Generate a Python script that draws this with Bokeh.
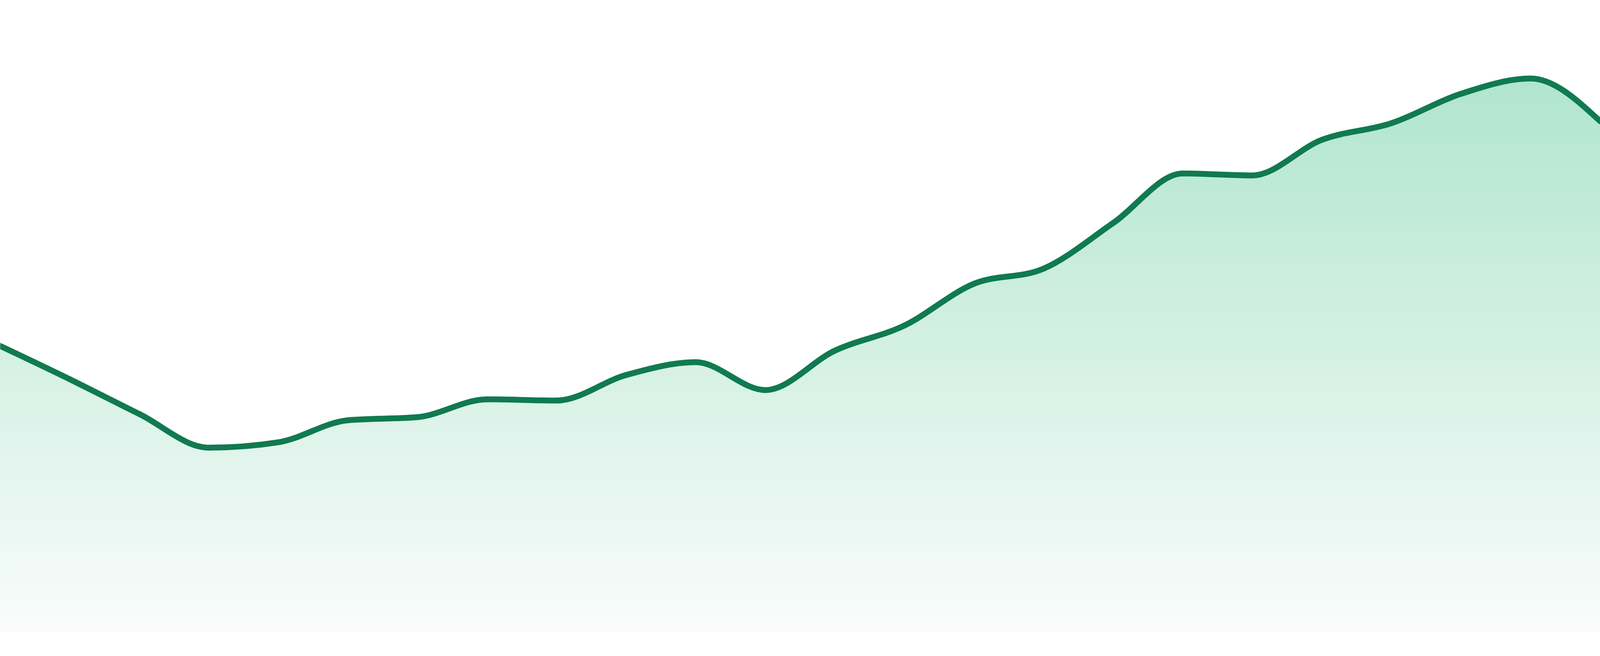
import numpy as np
from bokeh.plotting import figure
from bokeh.models import Range1d, ColumnDataSource
from bokeh.embed import file_html
from bokeh.resources import INLINE

# ---- data ----
periods = list(range(24))
values = [73.8, 65.2, 56.2, 47.5, 48.9, 54.6, 55.4, 60.0, 59.7, 66.3, 69.6, 62.4,
          72.6, 79.1, 89.9, 93.8, 105.6, 118.4, 117.9, 127.1, 131.4, 139.0, 142.95, 131.9]

LINE_COLOR = "#107a50"
FILL_TOP = (176, 229, 207)
FILL_BOTTOM = (249, 252, 251)

W, H = 4096, 1664

x = np.array(periods, dtype=float)
y = np.array(values, dtype=float)
n = len(x)


def sgn(v):
    return -1.0 if v < 0 else 1.0


# monotone-x tangents (same rule as d3.curveMonotoneX)
t = np.zeros(n)
for i in range(1, n - 1):
    h0 = x[i] - x[i - 1]
    h1 = x[i + 1] - x[i]
    s0 = (y[i] - y[i - 1]) / h0
    s1 = (y[i + 1] - y[i]) / h1
    pp = (s0 * h1 + s1 * h0) / (h0 + h1)
    t[i] = (sgn(s0) + sgn(s1)) * min(abs(s0), abs(s1), 0.5 * abs(pp))
t[0] = (3 * (y[1] - y[0]) / (x[1] - x[0]) - t[1]) / 2
t[-1] = (3 * (y[-1] - y[-2]) / (x[-1] - x[-2]) - t[-2]) / 2

dx = (x[1:] - x[:-1]) / 3.0
seg = dict(
    x0=x[:-1], y0=y[:-1], x1=x[1:], y1=y[1:],
    cx0=x[:-1] + dx, cy0=y[:-1] + dx * t[:-1],
    cx1=x[1:] - dx, cy1=y[1:] - dx * t[1:],
)

# the same bezier segments traced for the area outline
uu = np.linspace(0, 1, 41)[:-1]
cx, cy = [], []
for k in range(n - 1):
    a = 1 - uu
    bx = a**3 * seg["x0"][k] + 3 * a**2 * uu * seg["cx0"][k] + 3 * a * uu**2 * seg["cx1"][k] + uu**3 * seg["x1"][k]
    by = a**3 * seg["y0"][k] + 3 * a**2 * uu * seg["cy0"][k] + 3 * a * uu**2 * seg["cy1"][k] + uu**3 * seg["y1"][k]
    cx.append(bx)
    cy.append(by)
cx.append([x[-1]])
cy.append([y[-1]])
cx = np.concatenate(cx)
cy = np.concatenate(cy)

p = figure(width=W, height=H, output_backend="svg", toolbar_location=None,
           x_range=Range1d(x[0], x[-1]), y_range=Range1d(-4.8, 163.2),
           min_border=0, min_border_left=0, min_border_right=0,
           min_border_top=0, min_border_bottom=0)
p.axis.visible = False
p.grid.visible = False
p.outline_line_color = None
p.background_fill_color = "white"
p.border_fill_color = "white"

# vertical gradient fill built from stacked layers
vmax = float(cy.max())
nb = 90
levels = np.linspace(0, vmax, nb + 1)[1:]
for k in range(nb - 1, -1, -1):
    lvl_top = levels[k]
    lvl_bot = levels[k - 1] if k > 0 else 0.0
    f = 0.5 * (lvl_top + lvl_bot) / vmax
    col = tuple(int(round(FILL_BOTTOM[j] + (FILL_TOP[j] - FILL_BOTTOM[j]) * f)) for j in range(3))
    hexc = "#%02x%02x%02x" % col
    top = np.minimum(cy, lvl_top) if k < nb - 1 else cy
    p.varea(x=cx, y1=np.zeros_like(cx), y2=top, fill_color=hexc, fill_alpha=1.0)

src = ColumnDataSource(seg)
p.bezier(x0="x0", y0="y0", x1="x1", y1="y1", cx0="cx0", cy0="cy0", cx1="cx1", cy1="cy1",
         source=src, line_color=LINE_COLOR, line_width=15, line_cap="round")

open("out.html", "w").write(file_html(p, INLINE))
